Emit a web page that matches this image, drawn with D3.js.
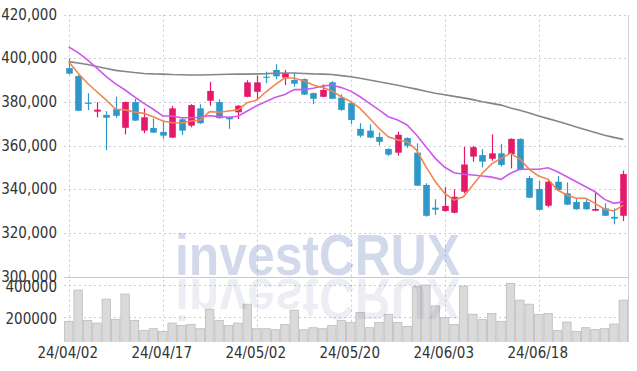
<!DOCTYPE html>
<html>
<head>
<meta charset="utf-8">
<script src="https://cdn.jsdelivr.net/npm/d3@7/dist/d3.min.js"></script>
<style>
	html, body { margin: 0; padding: 0; background: #fff; }
	svg text { font-family: "Liberation Sans Narrow", "DejaVu Sans Condensed", sans-serif; }
</style>
</head>
<body>
<svg id="chart" width="637" height="371"></svg>
<script>
// trading days (yy/mm/dd)
const dates = [
	'24/04/02','24/04/03','24/04/04','24/04/05','24/04/08','24/04/09','24/04/11','24/04/12','24/04/15','24/04/16',
	'24/04/17','24/04/18','24/04/19','24/04/22','24/04/23','24/04/24','24/04/25','24/04/26','24/04/29','24/04/30',
	'24/05/02','24/05/03','24/05/07','24/05/08','24/05/09','24/05/10','24/05/13','24/05/14','24/05/16','24/05/17',
	'24/05/20','24/05/21','24/05/22','24/05/23','24/05/24','24/05/27','24/05/28','24/05/29','24/05/30','24/05/31',
	'24/06/03','24/06/04','24/06/05','24/06/07','24/06/10','24/06/11','24/06/12','24/06/13','24/06/14','24/06/17',
	'24/06/18','24/06/19','24/06/20','24/06/21','24/06/24','24/06/25','24/06/26','24/06/27','24/06/28','24/07/01'
];
const open = [
	395500,391900,379700,375600,374100,376800,368200,380000,366900,368100,
	366300,363700,372100,369200,377100,380600,380000,373100,375300,382400,
	384700,391600,394700,391100,390100,390500,384100,382400,389000,382000,
	379500,367700,366900,364000,358500,356800,363500,356800,342000,331600,
	330100,329300,338900,355000,355700,354000,356500,356200,363100,345200,
	340200,332500,343500,338200,334200,334200,330200,331300,327400,327900
];
const close = [
	393000,376000,379200,376500,372800,373700,380000,371500,373000,366000,
	364600,377100,366900,378600,370300,385100,372600,372100,378300,389000,
	389000,391100,391800,393200,388400,383400,381500,385500,381500,376400,
	371800,364600,363700,361800,355900,365000,360000,341700,327900,330700,
	332400,336600,351400,359300,352700,356500,351200,363100,348900,336200,
	330600,343500,339700,333000,330900,330900,331000,327900,326600,347000
];
const high = [
	400000,392300,384000,380000,375800,382400,380200,381400,377100,372400,
	370900,378200,373000,379000,379000,389300,381300,373300,378600,390000,
	392100,393900,397300,394700,393400,390800,384300,388100,389600,383500,
	380000,370300,369800,366100,358800,366400,363800,361100,342800,335500,
	341000,340000,359500,359900,358400,365200,360900,363400,363300,346100,
	343800,344600,346100,343200,335900,335700,338500,333600,331300,348600
];
const low = [
	392600,375800,376300,373000,358000,372800,365200,371300,365700,365800,
	363200,363500,364900,368400,370000,378300,372400,367700,372200,382200,
	380900,388600,390500,387800,387000,383200,379000,382200,381300,376000,
	369900,363800,363500,360200,355300,355400,359000,341500,327500,328300,
	329800,329000,338200,352700,350100,353100,350400,349600,348700,336000,
	330400,331800,339500,332800,330700,330700,330000,327700,324000,325500
];
const volume = [
	172900,368500,179000,162000,311700,185500,343200,179000,116000,126800,
	109800,162000,147600,154000,126800,248600,179000,147600,162000,280000,
	126800,126800,120500,154000,242300,120500,133000,126800,147600,179000,
	166600,227800,133000,166600,217000,166600,141300,389000,400000,269400,
	196000,154000,393700,217000,183600,221400,172900,410700,305400,280000,
	215100,221400,116000,168500,109800,133000,122400,126800,155800,305400
];
// moving averages
const maShort = [
	398500,393200,388600,384700,380900,376700,376400,375400,374800,373300,
	371300,370500,370400,371300,371800,375600,375300,375900,376400,379700,
	380900,384700,388100,391100,390900,389800,387800,386700,385100,382400,
	380200,377100,372600,368000,364100,362600,361800,358000,350400,343500,
	338200,335100,336600,342000,347400,351700,354200,356500,353900,349200,
	346100,344600,339700,337400,335900,335900,333600,330900,330100,332800
];
const maMid = [
	405200,402600,399300,395500,391600,388300,385500,382400,379400,376700,
	373600,373600,372800,372800,373000,373700,373300,373000,373500,375900,
	378300,380200,382200,383500,385700,385700,386300,387300,387800,386600,
	385000,382400,379400,376400,373300,371800,369500,364900,359500,354200,
	350100,347600,346900,346600,346100,345600,344600,347400,349200,349200,
	349200,349900,348100,345800,343500,341200,338900,335400,333600,334400
];
const maLong = [
	398500,397900,397200,396300,395400,394500,394000,393500,393100,392900,
	392800,392600,392500,392400,392400,392500,392600,392700,392800,392800,
	392900,393000,393200,393300,393300,393100,392900,392800,392600,392100,
	391600,390900,390100,389300,388500,387700,386800,385900,384900,384000,
	383300,382600,381900,381100,380100,379400,378600,377300,376200,375000,
	373600,372400,371200,369900,368600,367300,366000,364800,363800,362900
];
const priceTicks = [300000, 320000, 340000, 360000, 380000, 400000, 420000];
const volumeTicks = [200000, 400000];
const dateTicks = ['24/04/02', '24/04/17', '24/05/02', '24/05/20', '24/06/03', '24/06/18'];

const svg = d3.select('#chart');
const left = 64, right = 628;
const priceTop = 14.7, priceBottom = 276.7, volBottom = 342;

const candles = dates.map((d, i) => ({
	date: d, o: open[i], h: high[i], l: low[i], c: close[i], v: volume[i]
}));

const x = d3.scaleBand().domain(dates).range([left, right]).padding(0);
const cx = (d) => x(d) + x.bandwidth() / 2;
const y = d3.scaleLinear().domain([300000, 420000]).range([priceBottom, priceTop]);
const yVol = d3.scaleLinear().domain([0, 400000]).range([349, 285]);

const upColor = '#e5196a';
const downColor = '#2e98c9';

// clip for volume panel
svg.append('defs').append('clipPath').attr('id', 'volclip')
	.append('rect').attr('x', left).attr('y', priceBottom).attr('width', right - left).attr('height', volBottom - priceBottom);

// grid
let grid = svg.append('g').attr('stroke', '#c9cbdc').attr('stroke-width', 1).attr('stroke-dasharray', '2,3');
grid.selectAll('line.h')
	.data(priceTicks.filter((t) => t > 300000))
	.enter().append('line')
	.attr('x1', left).attr('x2', right)
	.attr('y1', (d) => Math.round(y(d)) + 0.5).attr('y2', (d) => Math.round(y(d)) + 0.5);
grid.selectAll('line.vh')
	.data(volumeTicks)
	.enter().append('line')
	.attr('x1', left).attr('x2', right)
	.attr('y1', (d) => Math.round(yVol(d)) + 0.5).attr('y2', (d) => Math.round(yVol(d)) + 0.5);
grid.selectAll('line.v')
	.data(dateTicks)
	.enter().append('line')
	.attr('x1', (d) => Math.round(cx(d)) + 0.5).attr('x2', (d) => Math.round(cx(d)) + 0.5)
	.attr('y1', priceTop).attr('y2', volBottom);

// frame lines
svg.append('line')
	.attr('x1', right + 0.5).attr('x2', right + 0.5)
	.attr('y1', priceTop).attr('y2', volBottom)
	.attr('stroke', '#d0d0d8');
svg.append('line')
	.attr('x1', left).attr('x2', right)
	.attr('y1', Math.round(priceBottom) + 0.5).attr('y2', Math.round(priceBottom) + 0.5)
	.attr('stroke', '#c8c8cc');

// volume bars
svg.append('g').attr('clip-path', 'url(#volclip)')
	.selectAll('rect')
	.data(candles)
	.enter().append('rect')
	.attr('x', (d) => x(d.date) + 0.5)
	.attr('width', x.bandwidth() - 1)
	.attr('y', (d) => yVol(d.v))
	.attr('height', (d) => yVol(0) - yVol(d.v))
	.attr('fill', '#dadada')
	.attr('stroke', '#bcbcbc')
	.attr('stroke-width', 0.8);

// watermark + reflection
const wm = svg.append('g').style('pointer-events', 'none');
wm.append('text')
	.attr('x', 175).attr('y', 275)
	.attr('textLength', 285).attr('lengthAdjust', 'spacingAndGlyphs')
	.style('font-family', '"Liberation Sans", Arial, sans-serif')
	.style('font-weight', 'bold').style('font-size', '57px')
	.attr('fill', 'rgb(60,90,170)').attr('fill-opacity', 0.23)
	.text('investCRUX');
wm.append('text')
	.attr('x', 175).attr('y', -279)
	.attr('transform', 'scale(1,-1)')
	.attr('textLength', 285).attr('lengthAdjust', 'spacingAndGlyphs')
	.style('font-family', '"Liberation Sans", Arial, sans-serif')
	.style('font-weight', 'bold').style('font-size', '57px')
	.attr('fill', 'rgb(60,80,140)').attr('fill-opacity', 0.1)
	.text('investCRUX');

// candles
let cg = svg.append('g');
cg.selectAll('line.wick')
	.data(candles)
	.enter().append('line')
	.attr('x1', (d) => Math.round(cx(d.date)) + 0.5).attr('x2', (d) => Math.round(cx(d.date)) + 0.5)
	.attr('y1', (d) => y(d.h)).attr('y2', (d) => y(d.l))
	.attr('stroke', (d) => d.c >= d.o ? upColor : downColor)
	.attr('stroke-width', 1.2);
cg.selectAll('rect')
	.data(candles)
	.enter().append('rect')
	.attr('x', (d) => Math.round(cx(d.date)) + 0.5 - 3.3)
	.attr('width', 6.6)
	.attr('y', (d) => y(Math.max(d.o, d.c)))
	.attr('height', (d) => Math.max(1.2, Math.abs(y(d.o) - y(d.c))))
	.attr('fill', (d) => d.c >= d.o ? upColor : downColor);

// moving averages
const maLine = (vals) => d3.line()
	.x((d, i) => cx(dates[i]))
	.y((d) => y(d))(vals);
svg.append('path').attr('d', maLine(maLong)).attr('fill', 'none').attr('stroke', '#868686').attr('stroke-width', 1.6);
svg.append('path').attr('d', maLine(maMid)).attr('fill', 'none').attr('stroke', '#cf58ec').attr('stroke-width', 1.6);
svg.append('path').attr('d', maLine(maShort)).attr('fill', 'none').attr('stroke', '#ef8650').attr('stroke-width', 1.6);

// axis labels
const fmt = d3.format(',');
svg.append('g').selectAll('text')
	.data(priceTicks)
	.enter().append('text')
	.attr('x', 57).attr('y', (d) => y(d) + 5)
	.attr('text-anchor', 'end')
	.attr('fill', '#333').style('font-size', '15px')
	.text((d) => fmt(d));
svg.append('g').selectAll('text')
	.data(volumeTicks)
	.enter().append('text')
	.attr('x', 57).attr('y', (d) => yVol(d) + 7)
	.attr('text-anchor', 'end')
	.attr('fill', '#333').style('font-size', '15px')
	.text((d) => d);
svg.append('g').selectAll('text')
	.data(dateTicks)
	.enter().append('text')
	.attr('x', (d) => cx(d) - 1).attr('y', 358)
	.attr('text-anchor', 'middle')
	.attr('fill', '#333').style('font-size', '15px')
	.text((d) => d);
</script>
</body>
</html>
